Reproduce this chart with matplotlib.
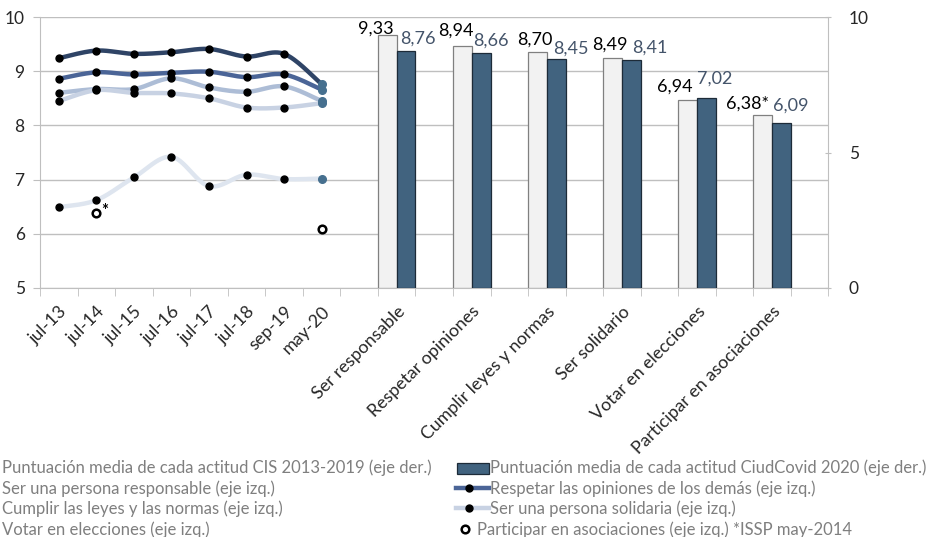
import numpy as np
import matplotlib
matplotlib.use('Agg')
import matplotlib.pyplot as plt
from matplotlib.lines import Line2D
from matplotlib.patches import Rectangle

plt.rcParams['font.family'] = ['Lato', 'DejaVu Sans']

# series por fecha (eje izquierdo)
fechas = ['jul-13', 'jul-14', 'jul-15', 'jul-16', 'jul-17', 'jul-18', 'sep-19', 'may-20']
responsable = [9.24, 9.38, 9.32, 9.35, 9.41, 9.27, 9.32, 8.76]
respetar = [8.86, 8.98, 8.94, 8.97, 8.99, 8.89, 8.94, 8.66]
cumplir = [8.60, 8.67, 8.67, 8.87, 8.70, 8.62, 8.72, 8.45]
solidaria = [8.45, 8.65, 8.60, 8.59, 8.50, 8.33, 8.33, 8.41]
votar = [6.49, 6.62, 7.04, 7.42, 6.88, 7.09, 7.01, 7.02]
asociaciones = [None, 6.38, None, None, None, None, None, 6.09]

# medias por actitud (eje derecho)
actitudes = ['Ser responsable', 'Respetar opiniones', 'Cumplir leyes y normas',
             'Ser solidario', 'Votar en elecciones', 'Participar en asociaciones']
cis = [9.33, 8.94, 8.70, 8.49, 6.94, 6.38]
ciudcovid = [8.76, 8.66, 8.45, 8.41, 7.02, 6.09]
cis_txt = ['9,33', '8,94', '8,70', '8,49', '6,94', '6,38*']
covid_txt = ['8,76', '8,66', '8,45', '8,41', '7,02', '6,09']

# desplazamiento de las etiquetas (px) respecto al centro superior de la barra
off_cis = [(-12, 7), (-7, 15), (-3, 13), (-3, 13), (-13, 13), (-15, 11)]
off_covid = [(12, 12), (10, 13), (15, 10), (18, 12), (8, 19), (9, 17)]

C_BAR = '#41637f'
C_GRID = '#bfbfbf'
C_TXT = '#262626'
C_LEG = '#7f7f7f'
FS = 12


def suavizar(xs, ys, n=30):
    # curva bezier tipo excel entre puntos consecutivos
    p = np.column_stack([xs, ys]).astype(float)
    out = []
    for i in range(len(p) - 1):
        p0 = p[i - 1] if i > 0 else p[i]
        p3 = p[i + 2] if i + 2 < len(p) else p[i + 1]
        c1 = p[i] + (p[i + 1] - p0) / 6
        c2 = p[i + 1] - (p3 - p[i]) / 6
        t = np.linspace(0, 1, n)[:, None]
        seg = ((1 - t) ** 3) * p[i] + 3 * ((1 - t) ** 2) * t * c1 + 3 * (1 - t) * t ** 2 * c2 + t ** 3 * p[i + 1]
        out.append(seg if i == 0 else seg[1:])
    s = np.vstack(out)
    return s[:, 0], s[:, 1]


fig = plt.figure(figsize=(9.28, 5.37), dpi=100)
ax = fig.add_axes([40 / 928, 1 - 288 / 537, (828.5 - 40) / 928, 271 / 537])
ax2 = ax.twinx()

n_cat = len(fechas) + 1 + 2 * len(actitudes)
xf = np.arange(len(fechas))
xb = len(fechas) + 1 + 2 * np.arange(len(actitudes))

series = [
    (responsable, '#2f4466'),
    (respetar, '#4b6597'),
    (cumplir, '#adbdd6'),
    (solidaria, '#c8d2e3'),
    (votar, '#dee5ef'),
]
for ys, col in series:
    sx, sy = suavizar(xf, ys)
    ax.plot(sx, sy, color=col, lw=3.2, solid_capstyle='round', zorder=3)
    ax.plot(xf[:-1], ys[:-1], 'o', color='black', ms=5, zorder=4)
    ax.plot(xf[-1], ys[-1], 'o', color='#46708f', ms=5.5, zorder=4)

xa = [x for x, v in zip(xf, asociaciones) if v is not None]
ya = [v for v in asociaciones if v is not None]
ax.plot(xa, ya, 'o', mfc='white', mec='black', mew=1.8, ms=5.5, zorder=4)
ax.annotate('*', (xa[0], ya[0]), xytext=(5, 2), textcoords='offset pixels',
            fontsize=12, fontweight='bold', color='black', ha='left', va='center')

ax2.bar(xb - 0.25, cis, width=0.5, color='#f2f2f2', edgecolor='#808080', lw=0.9, zorder=2)
ax2.bar(xb + 0.25, ciudcovid, width=0.5, color=C_BAR, edgecolor='#1d2b38', lw=0.9, zorder=2)
for i in range(len(actitudes)):
    ax2.annotate(cis_txt[i], (xb[i] - 0.25, cis[i]), xytext=off_cis[i], textcoords='offset pixels',
                 ha='center', va='center', fontsize=13, color='black')
    ax2.annotate(covid_txt[i], (xb[i] + 0.25, ciudcovid[i]), xytext=off_covid[i], textcoords='offset pixels',
                 ha='center', va='center', fontsize=13, color='#44546a')

ax.set_xlim(-0.5, n_cat - 0.5)
ax.set_ylim(5, 10)
ax2.set_ylim(0, 10)
ax.set_yticks(range(5, 11))
ax2.set_yticks([0, 5, 10])
ax.yaxis.grid(True, color=C_GRID, lw=1)
ax.set_axisbelow(True)

ax.set_xticks(list(xf) + list(xb))
ax.set_xticklabels(fechas + actitudes, rotation=45, ha='right', rotation_mode='anchor',
                   fontsize=12.8, color=C_TXT)
ax.set_xticks(np.arange(-0.5, n_cat), minor=True)
ax.tick_params(axis='x', which='major', length=0, pad=11)
ax.tick_params(axis='x', which='minor', length=6, color=C_GRID, direction='out')
ax.tick_params(axis='y', length=5, color=C_GRID, labelsize=12.5, labelcolor=C_TXT, pad=6)
ax2.tick_params(axis='y', length=5, color=C_GRID, labelsize=12.5, labelcolor=C_TXT, pad=12, direction='inout')

for a in (ax, ax2):
    for s in a.spines.values():
        s.set_visible(False)
ax.spines['left'].set_visible(True)
ax.spines['left'].set_color(C_GRID)
ax.spines['bottom'].set_visible(True)
ax.spines['bottom'].set_color(C_GRID)
ax2.spines['right'].set_visible(True)
ax2.spines['right'].set_color(C_GRID)


# leyenda dibujada a mano
def fx(px):
    return px / 928


def fy(py):
    return 1 - py / 537


izq = ['Puntuación media de cada actitud CIS 2013-2019 (eje der.)',
       'Ser una persona responsable (eje izq.)',
       'Cumplir las leyes y las normas (eje izq.)',
       'Votar en elecciones (eje izq.)']
der = ['Puntuación media de cada actitud CiudCovid 2020 (eje der.)',
       'Respetar las opiniones de los demás (eje izq.)',
       'Ser una persona solidaria (eje izq.)',
       'Participar en asociaciones (eje izq.) *ISSP may-2014']
filas = [468, 489, 509, 530]
for i in range(4):
    fig.text(fx(2), fy(filas[i]), izq[i], fontsize=FS, color=C_LEG, va='center', ha='left')
    xt = 477 if i == 3 else 490
    fig.text(fx(xt), fy(filas[i]), der[i], fontsize=FS, color=C_LEG, va='center', ha='left')

fig.add_artist(Rectangle((fx(457), fy(474)), fx(32), 11 / 537, transform=fig.transFigure,
                         facecolor=C_BAR, edgecolor='#1d2b38', lw=0.9))
fig.add_artist(Line2D([fx(456), fx(489)], [fy(488), fy(488)], transform=fig.transFigure,
                      color='#4b6597', lw=3.2))
fig.add_artist(Line2D([fx(469)], [fy(488)], transform=fig.transFigure, marker='o', color='black', ms=5))
fig.add_artist(Line2D([fx(456), fx(489)], [fy(508), fy(508)], transform=fig.transFigure,
                      color='#c8d2e3', lw=3.2))
fig.add_artist(Line2D([fx(469)], [fy(508)], transform=fig.transFigure, marker='o', color='black', ms=5))
fig.add_artist(Line2D([fx(465)], [fy(529)], transform=fig.transFigure, marker='o', mfc='white',
                      mec='black', mew=1.8, ms=5.5))

fig.savefig('out.png', dpi=100)
